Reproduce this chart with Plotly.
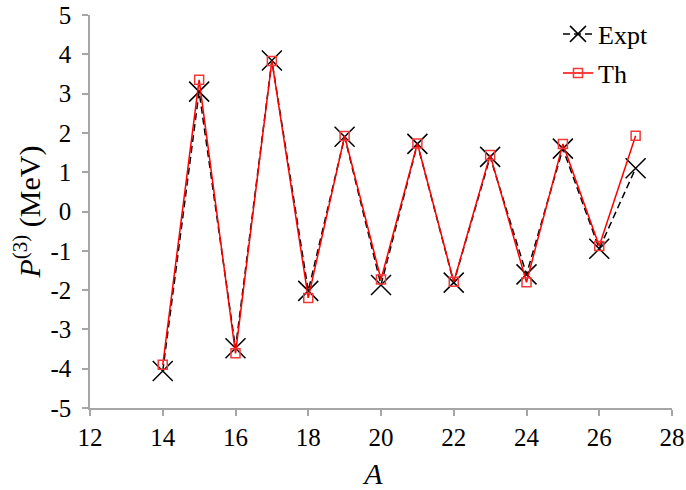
import plotly.graph_objects as go

# Mass number A
mass_number = [14, 15, 16, 17, 18, 19, 20, 21, 22, 23, 24, 25, 26, 27]

# Three-point odd-even staggering P(3) in MeV
p3_expt = [-4.06, 3.05, -3.48, 3.84, -2.02, 1.90, -1.87, 1.72, -1.81, 1.39, -1.60, 1.60, -0.95, 1.10]
p3_th = [-3.90, 3.35, -3.61, 3.83, -2.20, 1.92, -1.73, 1.73, -1.79, 1.44, -1.80, 1.72, -0.88, 1.93]

x_ticks = [12, 14, 16, 18, 20, 22, 24, 26, 28]
y_ticks = [-5, -4, -3, -2, -1, 0, 1, 2, 3, 4, 5]

FONT = "Liberation Serif"
AXIS_GREY = "#a6a6a6"

fig = go.Figure()

fig.add_trace(go.Scatter(
    x=mass_number, y=p3_expt, name="Expt", mode="lines+markers",
    line=dict(color="black", width=1.5, dash="7px,4px"),
    marker=dict(symbol="x-thin", size=20, color="black",
                line=dict(color="black", width=1.5)),
    legend="legend",
))

fig.add_trace(go.Scatter(
    x=mass_number, y=p3_th, name="Th", mode="lines+markers",
    line=dict(color="red", width=1.5),
    marker=dict(symbol="square-open", size=9, color="#f03a3a",
                line=dict(color="#f03a3a", width=1.5)),
    legend="legend2",
))

W, H = 686, 490
L, R, T, B = 90, 14, 15, 82


def px_x(px):
    return (px - L) / (W - L - R)


def px_y(py):
    return 1 - (py - T) / (H - T - B)


legend_common = dict(
    xanchor="left", yanchor="middle",
    bgcolor="rgba(0,0,0,0)", borderwidth=0,
    font=dict(family=FONT, size=26, color="black"),
    itemwidth=30, tracegroupgap=0,
)

fig.update_layout(
    width=W, height=H, autosize=False,
    margin=dict(l=L, r=R, t=T, b=B, pad=0, autoexpand=False),
    paper_bgcolor="white", plot_bgcolor="white",
    font=dict(family=FONT, size=24, color="black"),
    showlegend=True,
    legend=dict(x=px_x(558), y=px_y(34), **legend_common),
    legend2=dict(x=px_x(558), y=px_y(73), **legend_common),
)

fig.update_xaxes(
    range=[12, 28], tickmode="array", tickvals=x_ticks,
    ticktext=[str(v) for v in x_ticks],
    showgrid=False, zeroline=False,
    showline=True, linecolor=AXIS_GREY, linewidth=1.5,
    ticks="outside", ticklen=6, tickwidth=1.5, tickcolor=AXIS_GREY,
    tickfont_family=FONT, tickfont_size=25, tickfont_color="black",
    title_text="<i>A</i>&nbsp;&nbsp;", title_font=dict(family=FONT, size=30, color="black"),
    title_standoff=16,
)
fig.update_yaxes(
    range=[-5, 5], tickmode="array", tickvals=y_ticks,
    ticktext=[str(v) for v in y_ticks],
    showgrid=False, zeroline=False,
    showline=True, linecolor=AXIS_GREY, linewidth=1.5,
    ticks="outside", ticklen=6, tickwidth=1.5, tickcolor=AXIS_GREY,
    ticklabelstandoff=6,
    tickfont_family=FONT, tickfont_size=25, tickfont_color="black",
    title_text="<i>P</i><sup>(3)</sup> (MeV)",
    title_font=dict(family=FONT, size=30, color="black"),
    title_standoff=1,
)

fig.write_html("out.html")
